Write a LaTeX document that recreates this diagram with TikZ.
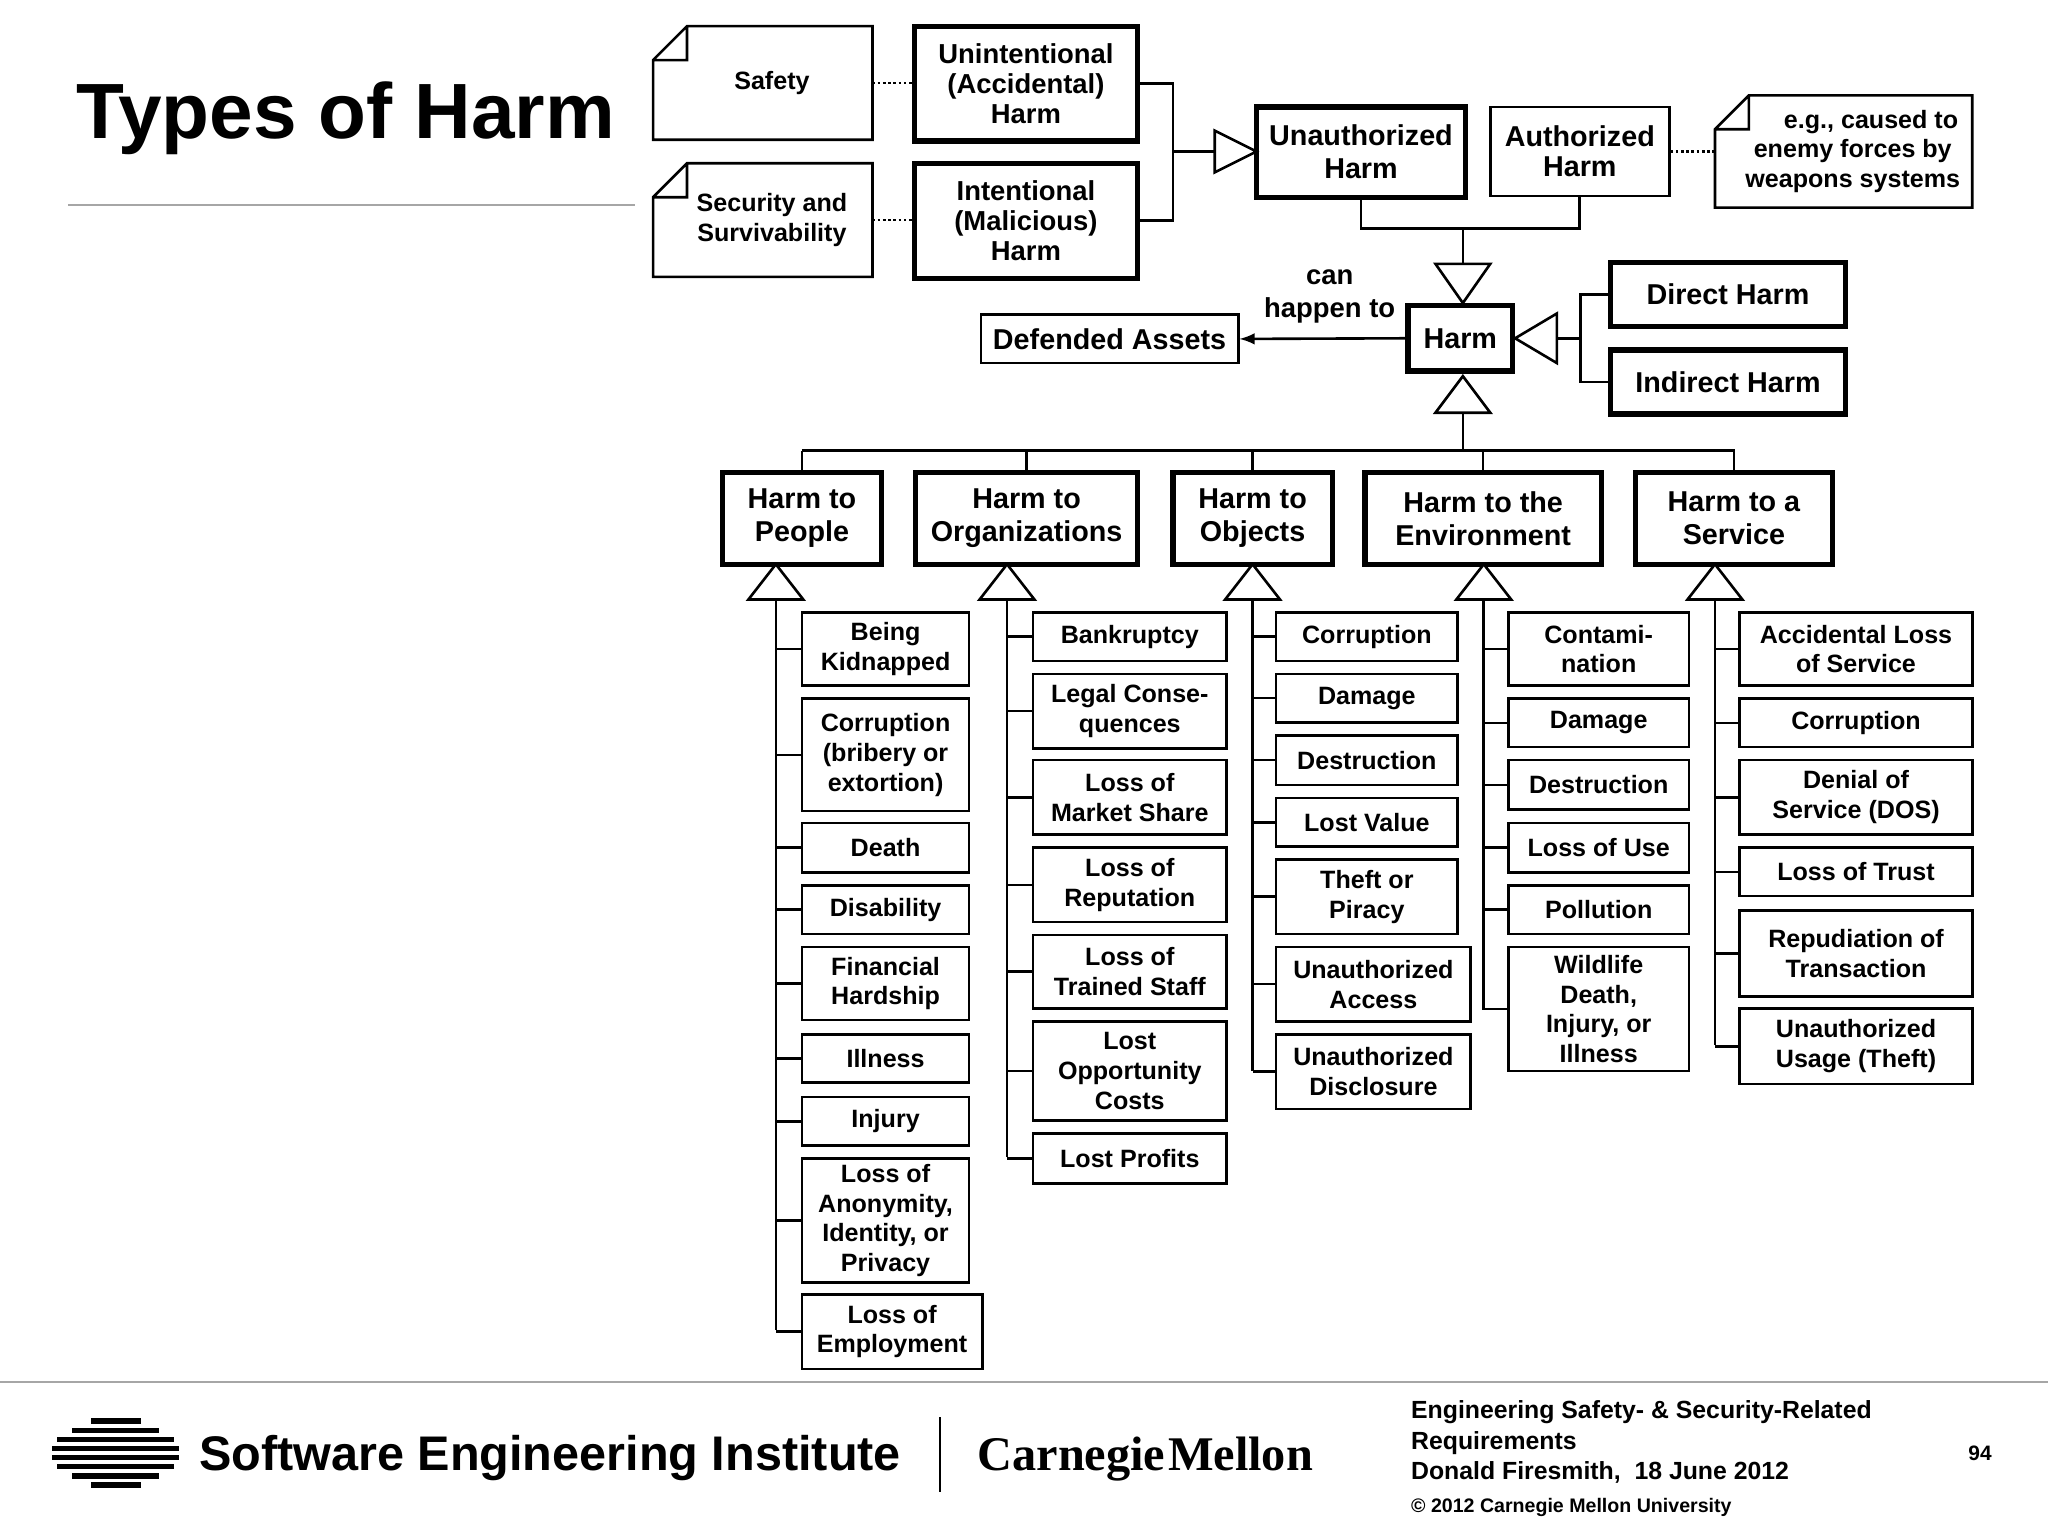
\documentclass[tikz,border=0pt]{standalone}
\usepackage{fontspec}
\setmainfont{Liberation Sans}
\newfontfamily\serifcm{Liberation Serif}
\begin{document}
\begin{tikzpicture}[x=0.5pt,y=-0.5pt,
  box/.style={draw,line width=1pt,align=center,inner sep=0pt,font=\bfseries\fontsize{9.6}{11.4}\selectfont},
  tbox/.style={box,line width=2pt},
  cat/.style={tbox,font=\bfseries\fontsize{11}{12.6}\selectfont},
  con/.style={line width=1pt},
  tri/.style={draw,line width=1pt,fill=white,line join=miter}]
\useasboundingbox (0,0) rectangle (1568,1176);
\newcommand\bx[7][box]{\pgfmathsetmacro\cx{(#3+#5)/2}\pgfmathsetmacro\cy{(#4+#6)/2}%
 \pgfmathsetmacro\ww{(#5-#3)/2}\pgfmathsetmacro\hh{(#6-#4)/2}%
 \node[#1,minimum width=\ww pt,minimum height=\hh pt] (#2) at (\cx,\cy) {#7};}
\newcommand\note[6]{\draw[line width=1pt] (#2+26,#3) -- (#4,#3) -- (#4,#5) -- (#2,#5) -- (#2,#3+26) -- cycle (#2,#3+26) -- (#2+26,#3+26) -- (#2+26,#3);
 \node[font=\bfseries\fontsize{9.6}{11.4}\selectfont,align=center] (#1) at ({(#2+#4)/2+7},{(#3+#5)/2}) {#6};
 \coordinate (#1r) at (#4,{(#3+#5)/2});\coordinate (#1l) at (#2,{(#3+#5)/2});}
% title
\node[anchor=base west,font=\bfseries\fontsize{30}{34}\selectfont,inner sep=0pt] (title) at (58,106) {Types of Harm};
\draw[gray!70,line width=0.6pt] (52,157) -- (486,157);
% top
\note{safe}{500}{20}{668}{107}{Safety}
\note{sec}{500}{125}{668}{212}{Security and\\Survivability}
\note{eg}{1313}{73}{1510}{159}{\hspace*{14pt}e.g., caused to\\enemy forces by\\weapons systems}
\bx[tbox]{unint}{700}{20}{871}{108}{\fontsize{10.5}{12.6}\selectfont Unintentional\\\fontsize{10.5}{12.6}\selectfont(Accidental)\\\fontsize{10.5}{12.6}\selectfont Harm}
\bx[tbox]{int}{700}{125}{871}{213}{\fontsize{10.5}{12.6}\selectfont Intentional\\\fontsize{10.5}{12.6}\selectfont(Malicious)\\\fontsize{10.5}{12.6}\selectfont Harm}
\draw[con,densely dotted] (safer) -- (unint.west|-safer);
\draw[con,densely dotted] (secr) -- (int.west|-secr);
\bx[cat]{unauth}{962}{82}{1122}{151}{Unauthorized\\Harm}
\bx[box]{auth}{1141}{82}{1278}{150}{\fontsize{11}{12.6}\selectfont Authorized\\\fontsize{11}{12.6}\selectfont Harm}
\draw[con,densely dotted] (auth.east) -- (egl);
\coordinate (j1) at (898,116);
\draw[con] (unint.east) -| (j1) (int.east) -| (j1) -- (930,116);
\draw[tri] (930,100) -- (962,116) -- (930,132) -- cycle;
\bx[cat]{harm}{1078}{234}{1158}{284}{Harm}
\coordinate (j2) at (1120,175);
\draw[con] (unauth.south) |- (j2) (auth.south) |- (j2) -- (1120,202);
\draw[tri] (1099,202) -- (1141,202) -- (1120,232) -- cycle;
\bx[cat]{direct}{1233}{201}{1413}{250}{Direct Harm}
\bx[cat]{indirect}{1233}{268}{1413}{317}{Indirect Harm}
\draw[tri] (1160,259) -- (1192,240) -- (1192,278) -- cycle;
\coordinate (j3) at (1210,259);
\draw[con] (1192,259) -- (j3) (direct.west) -| (j3) (indirect.west) -| (j3);
\bx{assets}{751}{241}{948}{278}{\fontsize{11}{12.6}\selectfont Defended Assets}
\draw[con,-latex] (harm.west) -- (assets.east);
\node[font=\bfseries\fontsize{10.5}{12.6}\selectfont,align=center] (lbl) at (1018,227) {can\\happen to};
% categories
\draw[tri] (1120,288) -- (1141,316) -- (1099,316) -- cycle;
\draw[con] (1120,316) -- (1120,345);
\bx[cat]{cp}{553}{362}{675}{432}{Harm to\\People}
\bx[cat]{co}{701}{362}{871}{432}{Harm to\\Organizations}
\bx[cat]{cb}{898}{362}{1020}{432}{Harm to\\Objects}
\bx[cat]{ce}{1045}{362}{1226}{432}{Harm to the\\Environment}
\bx[cat]{cs}{1252}{362}{1403}{432}{Harm to a\\Service}
\draw[con] (614,345) -- (1328,345);
\foreach \n in {cp,co,cb,ce,cs} \draw[con] (\n.north) -- (\n.north|-0,345);
\foreach \x/\e/\n in {594/1018/cp,771/886/co,959/820/cb,1136/773/ce,1313/800/cs}{
  \draw[tri] (\x,432) -- (\x+21,459) -- (\x-21,459) -- cycle;
  \coordinate (t\n) at (\x,\e);
  \draw[con] (\x,459) -- (t\n);}
% People
\bx{p1}{614}{469}{742}{525}{Being\\Kidnapped}
\bx{p2}{614}{535}{742}{621}{Corruption\\(bribery or\\extortion)}
\bx{p3}{614}{630}{742}{668}{Death}
\bx{p4}{614}{678}{742}{715}{Disability}
\bx{p5}{614}{725}{742}{781}{Financial\\Hardship}
\bx{p6}{614}{792}{742}{829}{Illness}
\bx{p7}{614}{840}{742}{877}{Injury}
\bx{p8}{614}{887}{742}{982}{Loss of\\Anonymity,\\Identity, or\\Privacy}
\bx{p9}{614}{991}{752}{1048}{Loss of\\Employment}
\foreach \i in {1,...,9} \draw[con] (p\i.west) -- (p\i.west-|tcp);
% Org
\bx{o1}{791}{469}{939}{506}{Bankruptcy}
\bx{o2}{791}{516}{939}{573}{Legal Conse-\\quences}
\bx{o3}{791}{582}{939}{639}{Loss of\\Market Share}
\bx{o4}{791}{649}{939}{706}{Loss of\\Reputation}
\bx{o5}{791}{716}{939}{772}{Loss of\\Trained Staff}
\bx{o6}{791}{782}{939}{858}{Lost\\Opportunity\\Costs}
\bx{o7}{791}{868}{939}{906}{Lost Profits}
\foreach \i in {1,...,7} \draw[con] (o\i.west) -- (o\i.west-|tco);
% Objects
\bx{b1}{977}{469}{1116}{506}{Corruption}
\bx{b2}{977}{516}{1116}{553}{Damage}
\bx{b3}{977}{563}{1116}{601}{Destruction}
\bx{b4}{977}{611}{1116}{648}{Lost Value}
\bx{b5}{977}{658}{1116}{715}{Theft or\\Piracy}
\bx{b6}{977}{725}{1126}{782}{Unauthorized\\Access}
\bx{b7}{977}{792}{1126}{849}{Unauthorized\\Disclosure}
\foreach \i in {1,...,7} \draw[con] (b\i.west) -- (b\i.west-|tcb);
% Environment
\bx{e1}{1155}{469}{1293}{525}{Contami-\\nation}
\bx{e2}{1155}{535}{1293}{572}{Damage}
\bx{e3}{1155}{582}{1293}{620}{Destruction}
\bx{e4}{1155}{630}{1293}{668}{Loss of Use}
\bx{e5}{1155}{678}{1293}{715}{Pollution}
\bx{e6}{1155}{725}{1293}{820}{Wildlife\\Death,\\Injury, or\\Illness}
\foreach \i in {1,...,6} \draw[con] (e\i.west) -- (e\i.west-|tce);
% Service
\bx{s1}{1332}{469}{1510}{525}{Accidental Loss\\of Service}
\bx{s2}{1332}{535}{1510}{572}{Corruption}
\bx{s3}{1332}{582}{1510}{639}{Denial of\\Service (DOS)}
\bx{s4}{1332}{649}{1510}{686}{Loss of Trust}
\bx{s5}{1332}{697}{1510}{763}{Repudiation of\\Transaction}
\bx{s6}{1332}{772}{1510}{830}{Unauthorized\\Usage (Theft)}
\foreach \i in {1,...,6} \draw[con] (s\i.west) -- (s\i.west-|tcs);
% footer
\draw[gray!70,line width=0.6pt] (0,1058) -- (1568,1058);
\foreach \y/\a/\b in {1086/70/108,1093/55/122,1100/44/133,1107/40/137,1114/40/137,1121/44/133,1128/55/122,1135/70/108}
  \fill (\a,\y) rectangle (\b,\y+4);
\node[anchor=west,font=\bfseries\fontsize{18.6}{20}\selectfont,inner sep=0pt] (sei) at (152,1116) {Software Engineering Institute};
\draw[line width=0.8pt] (720,1085) -- (720,1142);
\node[anchor=west,font=\serifcm\bfseries\fontsize{18.5}{22}\selectfont,inner sep=0pt] (cmu) at (748,1117) {Carnegie\hspace{1pt}Mellon};
\node[anchor=north west,align=left,font=\bfseries\fontsize{9.5}{11.7}\selectfont,inner sep=0pt] (ft) at (1080,1072) {Engineering Safety- \& Security-Related\\Requirements\\Donald Firesmith,\ \ 18 June 2012};
\node[anchor=west,font=\bfseries\fontsize{7.5}{9}\selectfont,inner sep=0pt] (copy) at (1080,1154) {\textcopyright\ 2012 Carnegie Mellon University};
\node[font=\bfseries\fontsize{8}{9}\selectfont,inner sep=0pt] (pg) at (1516,1113) {94};
\end{tikzpicture}
\end{document}
